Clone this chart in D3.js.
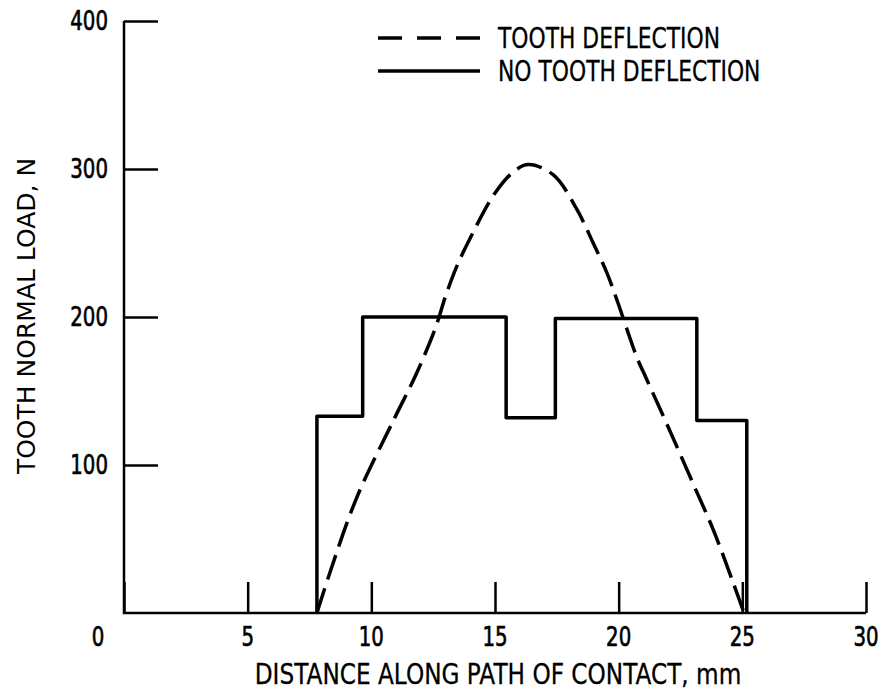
<!DOCTYPE html>
<html>
<head>
<meta charset="utf-8">
<script src="https://cdn.jsdelivr.net/npm/d3@7"></script>
<style>
  body { margin: 0; background: #fff; }
  text { font-family: "DejaVu Sans", sans-serif; fill: #000; }
</style>
</head>
<body>
<div id="chart"></div>
<script>
// chart size
let w = 883
let h = 697

// x ticks (mm) and y ticks (N)
let xTicks = [0, 5, 10, 15, 20, 25, 30];
let yTicks = [100, 200, 300, 400];

// tooth deflection curve (dashed)
let deflDist = [7.8, 8.26, 9.41, 10.89, 11.83, 12.6, 13.0, 13.45, 13.99, 14.93, 15.74, 16.35, 17.36, 18.3, 18.97, 19.52, 19.92, 20.33, 20.73, 21.13, 21.94, 23.02, 23.83, 24.64, 25.07];
let deflLoad = [0, 24, 78, 130, 162, 193, 214, 234, 253, 282, 298, 303, 296, 273, 250, 230, 212, 192, 173, 158, 128, 87, 56, 20, 0];

// no tooth deflection (solid steps): edges in mm, load on each step
let stepEdges = [7.8, 9.65, 15.45, 17.44, 23.16, 25.18];
let stepLoads = [133, 200, 132, 199, 130];

let svg = d3.select("#chart")
  .append("svg")
  .attr("width", w)
  .attr("height", h);

let x = d3.scaleLinear().domain([0, 30]).range([124, 866]);
let y = d3.scaleLinear().domain([0, 400]).range([613, 21]);

// the original uses a narrow typeface, so squeeze the text horizontally
function narrowText(parent, tx, ty, str, size, sx, anchor) {
  return parent.append("text")
    .attr("transform", "translate(" + tx + "," + ty + ") scale(" + sx + ",1)")
    .attr("text-anchor", anchor || "start")
    .attr("font-size", size)
    .text(str);
}

// tick marks point inward
let xAxis = d3.axisTop(x).tickValues(xTicks).tickSize(31).tickFormat("");
svg.append("g")
  .attr("transform", "translate(0," + y(0) + ")")
  .call(xAxis)
  .call(g => g.select(".domain").remove())
  .selectAll("line").attr("stroke", "#000").attr("stroke-width", 2.5);

let yAxis = d3.axisRight(y).tickValues(yTicks).tickSize(34).tickFormat("");
svg.append("g")
  .attr("transform", "translate(" + x(0) + ",0)")
  .call(yAxis)
  .call(g => g.select(".domain").remove())
  .selectAll("line").attr("stroke", "#000").attr("stroke-width", 2.5);

// axis lines
svg.append("path")
  .attr("d", "M" + x(0) + "," + y(400) + "V" + y(0) + "H" + x(30))
  .attr("fill", "none")
  .attr("stroke", "#000")
  .attr("stroke-width", 2.5);

// tick labels
xTicks.forEach(d => {
  narrowText(svg, x(d) - (d == 0 ? 26 : 0), y(0) + 33, d, 26, 0.76, "middle")
    .attr("stroke", "#000").attr("stroke-width", 0.7);
});
yTicks.forEach(d => {
  narrowText(svg, 108, y(d) + 9, d, 26, 0.76, "end")
    .attr("stroke", "#000").attr("stroke-width", 0.7);
});

// axis titles
narrowText(svg, 498, 684, "DISTANCE ALONG PATH OF CONTACT,  mm", 29, 0.8, "middle")
  .attr("stroke", "#000").attr("stroke-width", 0.3);

svg.append("text")
  .attr("transform", "translate(35,316) rotate(-90)")
  .attr("text-anchor", "middle")
  .attr("font-size", 25)
  .text("TOOTH NORMAL LOAD, N");

// solid step line
let stepPts = [[stepEdges[0], 0]];
for (let i = 0; i < stepLoads.length; i++) {
  stepPts.push([stepEdges[i], stepLoads[i]]);
  stepPts.push([stepEdges[i + 1], stepLoads[i]]);
}
stepPts.push([stepEdges[stepEdges.length - 1], 0]);

let line = d3.line().x(d => x(d[0])).y(d => y(d[1]));

svg.append("path")
  .attr("d", line(stepPts))
  .attr("fill", "none")
  .attr("stroke", "#000")
  .attr("stroke-width", 3.5)
  .attr("stroke-linejoin", "round");

// dashed curve
let deflPts = deflDist.map((d, i) => [d, deflLoad[i]]);
svg.append("path")
  .attr("d", line.curve(d3.curveCatmullRom.alpha(0.5))(deflPts))
  .attr("fill", "none")
  .attr("stroke", "#000")
  .attr("stroke-width", 3.5)
  .attr("stroke-dasharray", "26,9");

// legend
let legend = svg.append("g");
legend.append("line")
  .attr("x1", 378).attr("x2", 480)
  .attr("y1", 38).attr("y2", 38)
  .attr("stroke", "#000").attr("stroke-width", 3.5)
  .attr("stroke-dasharray", "24,15");
legend.append("line")
  .attr("x1", 378).attr("x2", 480)
  .attr("y1", 71).attr("y2", 71)
  .attr("stroke", "#000").attr("stroke-width", 3.5);
narrowText(legend, 498, 48, "TOOTH DEFLECTION", 28, 0.78)
  .attr("stroke", "#000").attr("stroke-width", 0.3);
narrowText(legend, 498, 81, "NO TOOTH DEFLECTION", 28, 0.78)
  .attr("stroke", "#000").attr("stroke-width", 0.3);
</script>
</body>
</html>
